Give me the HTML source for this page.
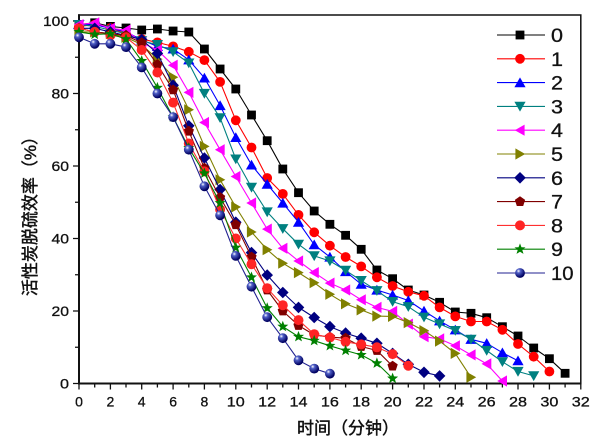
<!DOCTYPE html>
<html><head><meta charset="utf-8"><style>
html,body{margin:0;padding:0;background:#fff;}
svg{display:block;}
text{font-family:"Liberation Sans","Noto Sans CJK SC",sans-serif;fill:#111;stroke:#111;stroke-width:0.3px;}
</style></head><body>
<svg width="600" height="444" viewBox="0 0 600 444" xmlns="http://www.w3.org/2000/svg">
<defs>
<radialGradient id="gb" cx="0.35" cy="0.3" r="0.65"><stop offset="0" stop-color="#ffffff"/><stop offset="0.3" stop-color="#5060c8"/><stop offset="1" stop-color="#000060"/></radialGradient>
<marker id="m0" markerUnits="userSpaceOnUse" markerWidth="12" markerHeight="12" refX="6" refY="6" overflow="visible"><rect x="1.6" y="1.6" width="8.8" height="8.8" fill="#000"/></marker>
<marker id="m1" markerUnits="userSpaceOnUse" markerWidth="12" markerHeight="12" refX="6" refY="6" overflow="visible"><circle cx="6" cy="6" r="4.9" fill="#ff0000"/></marker>
<marker id="m2" markerUnits="userSpaceOnUse" markerWidth="12" markerHeight="12" refX="6" refY="6" overflow="visible"><polygon points="6,0.8 11.6,10.6 0.4,10.6" fill="#0000ff"/></marker>
<marker id="m3" markerUnits="userSpaceOnUse" markerWidth="12" markerHeight="12" refX="6" refY="6" overflow="visible"><polygon points="0.4,1.4 11.6,1.4 6,11.2" fill="#008080"/></marker>
<marker id="m4" markerUnits="userSpaceOnUse" markerWidth="12" markerHeight="12" refX="6" refY="6" overflow="visible"><polygon points="0.8,6 10.6,0.4 10.6,11.6" fill="#ff00ff"/></marker>
<marker id="m5" markerUnits="userSpaceOnUse" markerWidth="12" markerHeight="12" refX="6" refY="6" overflow="visible"><polygon points="11.2,6 1.4,0.4 1.4,11.6" fill="#808000"/></marker>
<marker id="m6" markerUnits="userSpaceOnUse" markerWidth="12" markerHeight="12" refX="6" refY="6" overflow="visible"><polygon points="6,0.2 11.8,6 6,11.8 0.2,6" fill="#000080"/></marker>
<marker id="m7" markerUnits="userSpaceOnUse" markerWidth="12" markerHeight="12" refX="6" refY="6" overflow="visible"><polygon points="6,0.6 11.14,4.33 9.18,10.37 2.82,10.37 0.86,4.33" fill="#800000"/></marker>
<marker id="m8" markerUnits="userSpaceOnUse" markerWidth="12" markerHeight="12" refX="6" refY="6" overflow="visible"><circle cx="6" cy="6" r="5" fill="#ff2424"/></marker>
<marker id="m9" markerUnits="userSpaceOnUse" markerWidth="12" markerHeight="12" refX="6" refY="6" overflow="visible"><polygon points="6,0.2 7.45,4.0 11.5,4.2 8.3,6.8 9.5,10.7 6,8.5 2.5,10.7 3.7,6.8 0.5,4.2 4.55,4.0" fill="#008000"/></marker>
<marker id="m10" markerUnits="userSpaceOnUse" markerWidth="12" markerHeight="12" refX="6" refY="6" overflow="visible"><circle cx="6" cy="6" r="4.9" fill="url(#gb)"/></marker>
</defs>

<!-- frame -->
<rect x="79" y="15" width="501.8" height="368.5" fill="none" stroke="#111" stroke-width="1.5"/>
<line x1="79" y1="14.3" x2="79" y2="384.5" stroke="#111" stroke-width="2"/>
<line x1="78" y1="383.5" x2="581.5" y2="383.5" stroke="#111" stroke-width="2"/>

<!-- x ticks -->
<path stroke="#111" stroke-width="1.3" fill="none" d="
M79,383.5v6 M94.7,383.5v4 M110.4,383.5v6 M126,383.5v4 M141.7,383.5v6 M157.4,383.5v4 M173.1,383.5v6 M188.8,383.5v4
M204.4,383.5v6 M220.1,383.5v4 M235.8,383.5v6 M251.5,383.5v4 M267.2,383.5v6 M282.8,383.5v4 M298.5,383.5v6 M314.2,383.5v4
M329.9,383.5v6 M345.6,383.5v4 M361.2,383.5v6 M376.9,383.5v4 M392.6,383.5v6 M408.3,383.5v4 M424,383.5v6 M439.6,383.5v4
M455.3,383.5v6 M471,383.5v4 M486.7,383.5v6 M502.4,383.5v4 M518,383.5v6 M533.7,383.5v4 M549.4,383.5v6 M565.1,383.5v4 M580.8,383.5v6"/>
<!-- y ticks -->
<path stroke="#111" stroke-width="1.3" fill="none" d="
M79,383.5h-6 M79,347.25h-4 M79,311h-6 M79,274.75h-4 M79,238.5h-6 M79,202.25h-4 M79,166h-6 M79,129.75h-4 M79,93.5h-6 M79,57.25h-4 M79,21h-6"/>

<!-- y tick labels -->
<g font-size="14" text-anchor="end">
<text x="69" y="26" textLength="26" lengthAdjust="spacingAndGlyphs">100</text>
<text x="69" y="98.5" textLength="17.5" lengthAdjust="spacingAndGlyphs">80</text>
<text x="69" y="171" textLength="17.5" lengthAdjust="spacingAndGlyphs">60</text>
<text x="69" y="243.5" textLength="17.5" lengthAdjust="spacingAndGlyphs">40</text>
<text x="69" y="316" textLength="17.5" lengthAdjust="spacingAndGlyphs">20</text>
<text x="69" y="388.5" textLength="9" lengthAdjust="spacingAndGlyphs">0</text>
</g>
<!-- x tick labels -->
<g font-size="14" text-anchor="middle">
<text x="79" y="406.5">0</text>
<text x="110.4" y="406.5">2</text>
<text x="141.7" y="406.5">4</text>
<text x="173.1" y="406.5">6</text>
<text x="204.4" y="406.5">8</text>
<text x="235.8" y="406.5" textLength="18" lengthAdjust="spacingAndGlyphs">10</text>
<text x="267.2" y="406.5" textLength="18" lengthAdjust="spacingAndGlyphs">12</text>
<text x="298.5" y="406.5" textLength="18" lengthAdjust="spacingAndGlyphs">14</text>
<text x="329.9" y="406.5" textLength="18" lengthAdjust="spacingAndGlyphs">16</text>
<text x="361.2" y="406.5" textLength="18" lengthAdjust="spacingAndGlyphs">18</text>
<text x="392.6" y="406.5" textLength="18" lengthAdjust="spacingAndGlyphs">20</text>
<text x="424" y="406.5" textLength="18" lengthAdjust="spacingAndGlyphs">22</text>
<text x="455.3" y="406.5" textLength="18" lengthAdjust="spacingAndGlyphs">24</text>
<text x="486.7" y="406.5" textLength="18" lengthAdjust="spacingAndGlyphs">26</text>
<text x="518" y="406.5" textLength="18" lengthAdjust="spacingAndGlyphs">28</text>
<text x="549.4" y="406.5" textLength="18" lengthAdjust="spacingAndGlyphs">30</text>
<text x="580.8" y="406.5" textLength="18" lengthAdjust="spacingAndGlyphs">32</text>
</g>

<!-- axis titles -->
<text x="348" y="434" text-anchor="middle" font-size="17" style="stroke-width:0.45px">时间（分钟）</text>
<text transform="translate(36,212) rotate(-90)" text-anchor="middle" font-size="17" style="stroke-width:0.45px">活性炭脱硫效率（%）</text>

<!-- series -->
<g fill="none" stroke-width="1.1" stroke-linejoin="round">
<polyline stroke="#000000" marker-start="url(#m0)" marker-mid="url(#m0)" marker-end="url(#m0)" points="79,24.6 94.7,22.8 110.4,26.4 126,28 141.7,30 157.4,29 173.1,31 188.8,32 204.4,49 220.1,69 235.8,89 251.5,115 267.2,140.7 282.8,169 298.5,192.7 314.2,211 329.9,224.3 345.6,235.3 361.2,249.3 376.9,270 392.6,278.7 408.3,290 424,295 439.6,302.3 455.3,312 471,313.3 486.7,317.7 502.4,326.7 518,336 533.7,348 549.4,358.7 565.1,373.3"/>
<polyline stroke="#ff0000" marker-start="url(#m1)" marker-mid="url(#m1)" marker-end="url(#m1)" points="79,26.4 94.7,24.6 110.4,28.1 126,33.7 141.7,39.1 157.4,42.4 173.1,46.4 188.8,51.8 204.4,60.1 220.1,81.9 235.8,120.3 251.5,147.5 267.2,178 282.8,193.9 298.5,214.9 314.2,232.3 329.9,245.7 345.6,257 361.2,266.4 376.9,277.3 392.6,286 408.3,291.8 424,295.8 439.6,307.4 455.3,316.4 471,321.5 486.7,321.5 502.4,329.8 518,344 533.7,356.7 549.4,371.5"/>
<polyline stroke="#0000ff" marker-start="url(#m2)" marker-mid="url(#m2)" marker-end="url(#m2)" points="79,24.6 94.7,24.6 110.4,28.3 126,31.9 141.7,39.9 157.4,46.4 173.1,48.9 188.8,59.8 204.4,77.9 220.1,105.5 235.8,137.4 251.5,164.9 267.2,184.1 282.8,203 298.5,222.2 314.2,244.7 329.9,257 345.6,271.5 361.2,284.2 376.9,290 392.6,295 408.3,300.5 424,311 439.6,320.8 455.3,329.8 471,339.3 486.7,343.3 502.4,352.7 518,360.7"/>
<polyline stroke="#008080" marker-start="url(#m3)" marker-mid="url(#m3)" marker-end="url(#m3)" points="79,24.6 94.7,26.4 110.4,30.1 126,33.7 141.7,40.9 157.4,44.6 173.1,51.8 188.8,63.1 204.4,93.5 220.1,117.8 235.8,159.1 251.5,187.4 267.2,212 282.8,228.7 298.5,244.3 314.2,255.9 329.9,261 345.6,270.4 361.2,280.6 376.9,290.7 392.6,301.6 408.3,306.7 424,317.2 439.6,324 455.3,330.6 471,339.3 486.7,350.5 502.4,361.8 518,371.5 533.7,375.9"/>
<polyline stroke="#ff00ff" marker-start="url(#m4)" marker-mid="url(#m4)" marker-end="url(#m4)" points="79,24.6 94.7,22.8 110.4,28.3 126,30.1 141.7,42.7 157.4,50 173.1,65.2 188.8,92.4 204.4,122.5 220.1,149.7 235.8,176.5 251.5,203 267.2,229.1 282.8,248.3 298.5,261 314.2,272.6 329.9,283.1 345.6,290 361.2,299.8 376.9,307.4 392.6,311.4 408.3,324.1 424,336.7 439.6,338.9 455.3,345.8 471,354.9 486.7,363.9 502.4,381"/>
<polyline stroke="#808000" marker-start="url(#m5)" marker-mid="url(#m5)" marker-end="url(#m5)" points="79,31.9 94.7,31.9 110.4,33.7 126,37.3 141.7,44.6 157.4,59.1 173.1,77.2 188.8,109.8 204.4,146.4 220.1,179.8 235.8,207 251.5,232 267.2,249.7 282.8,263.2 298.5,272.6 314.2,282.7 329.9,294.3 345.6,303.8 361.2,309.9 376.9,316.1 392.6,316.4 408.3,322.6 424,330.6 439.6,341.1 455.3,353.4 471,377.3"/>
<polyline stroke="#000080" marker-start="url(#m6)" marker-mid="url(#m6)" marker-end="url(#m6)" points="79,28.3 94.7,28.3 110.4,31.9 126,35.5 141.7,39.5 157.4,53.4 173.1,85.2 188.8,125.8 204.4,158 220.1,189.6 235.8,222.2 251.5,252.6 267.2,275.1 282.8,292.5 298.5,307.4 314.2,317.5 329.9,326.6 345.6,333.1 361.2,338.2 376.9,343.3 392.6,353.4 408.3,364.3 424,372.3 439.6,375.9"/>
<polyline stroke="#800000" marker-start="url(#m7)" marker-mid="url(#m7)" marker-end="url(#m7)" points="79,28.3 94.7,31.9 110.4,33.7 126,35.5 141.7,42.7 157.4,64.5 173.1,89.9 188.8,131.2 204.4,168.2 220.1,197.5 235.8,224.7 251.5,257 267.2,290 282.8,311 298.5,325.5 314.2,334.9 329.9,337.1 345.6,338.2 361.2,346.5 376.9,350.5 392.6,366.1"/>
<polyline stroke="#ff3030" marker-start="url(#m8)" marker-mid="url(#m8)" marker-end="url(#m8)" points="79,28.3 94.7,31.9 110.4,35.5 126,37.3 141.7,50 157.4,72.5 173.1,102.6 188.8,143.5 204.4,171.4 220.1,209.5 235.8,238.5 251.5,264.2 267.2,288.2 282.8,305.2 298.5,320.1 314.2,334.2 329.9,337.5 345.6,341.8 361.2,344.4 376.9,347.3 392.6,354.1 408.3,365.7"/>
<polyline stroke="#008000" marker-start="url(#m9)" marker-mid="url(#m9)" marker-end="url(#m9)" points="79,31.9 94.7,34.4 110.4,33.7 126,39.1 141.7,60.9 157.4,87.7 173.1,117.1 188.8,147.9 204.4,173.3 220.1,203 235.8,247.6 251.5,277.3 267.2,308.1 282.8,326.6 298.5,336.7 314.2,340.7 329.9,345.8 345.6,350.5 361.2,354.9 376.9,363.2 392.6,378.4"/>
<polyline stroke="#202090" marker-start="url(#m10)" marker-mid="url(#m10)" marker-end="url(#m10)" points="79,37.3 94.7,43.8 110.4,43.8 126,47.1 141.7,67.4 157.4,93.5 173.1,117.1 188.8,149.7 204.4,186.3 220.1,215.3 235.8,255.9 251.5,286.7 267.2,317.2 282.8,338.2 298.5,360.3 314.2,368.6 329.9,373.7"/>
</g>

<!-- legend -->
<g fill="none" stroke-width="1.1">
<path stroke="#000000" marker-mid="url(#m0)" d="M497,35 L520,35 L545,35"/>
<path stroke="#ff0000" marker-mid="url(#m1)" d="M497,58.8 L520,58.8 L545,58.8"/>
<path stroke="#0000ff" marker-mid="url(#m2)" d="M497,82.6 L520,82.6 L545,82.6"/>
<path stroke="#008080" marker-mid="url(#m3)" d="M497,106.4 L520,106.4 L545,106.4"/>
<path stroke="#ff00ff" marker-mid="url(#m4)" d="M497,130.2 L520,130.2 L545,130.2"/>
<path stroke="#808000" marker-mid="url(#m5)" d="M497,154 L520,154 L545,154"/>
<path stroke="#000080" marker-mid="url(#m6)" d="M497,177.8 L520,177.8 L545,177.8"/>
<path stroke="#800000" marker-mid="url(#m7)" d="M497,201.6 L520,201.6 L545,201.6"/>
<path stroke="#ff3030" marker-mid="url(#m8)" d="M497,225.4 L520,225.4 L545,225.4"/>
<path stroke="#008000" marker-mid="url(#m9)" d="M497,249.2 L520,249.2 L545,249.2"/>
<path stroke="#202090" marker-mid="url(#m10)" d="M497,273 L520,273 L545,273"/>
</g>
<g font-size="19">
<text x="551" y="42" textLength="12" lengthAdjust="spacingAndGlyphs">0</text>
<text x="551" y="65.8" textLength="12" lengthAdjust="spacingAndGlyphs">1</text>
<text x="551" y="89.6" textLength="12" lengthAdjust="spacingAndGlyphs">2</text>
<text x="551" y="113.4" textLength="12" lengthAdjust="spacingAndGlyphs">3</text>
<text x="551" y="137.2" textLength="12" lengthAdjust="spacingAndGlyphs">4</text>
<text x="551" y="161" textLength="12" lengthAdjust="spacingAndGlyphs">5</text>
<text x="551" y="184.8" textLength="12" lengthAdjust="spacingAndGlyphs">6</text>
<text x="551" y="208.6" textLength="12" lengthAdjust="spacingAndGlyphs">7</text>
<text x="551" y="232.4" textLength="12" lengthAdjust="spacingAndGlyphs">8</text>
<text x="551" y="256.2" textLength="12" lengthAdjust="spacingAndGlyphs">9</text>
<text x="551" y="280" textLength="22.5" lengthAdjust="spacingAndGlyphs">10</text>
</g>
</svg>
</body></html>
